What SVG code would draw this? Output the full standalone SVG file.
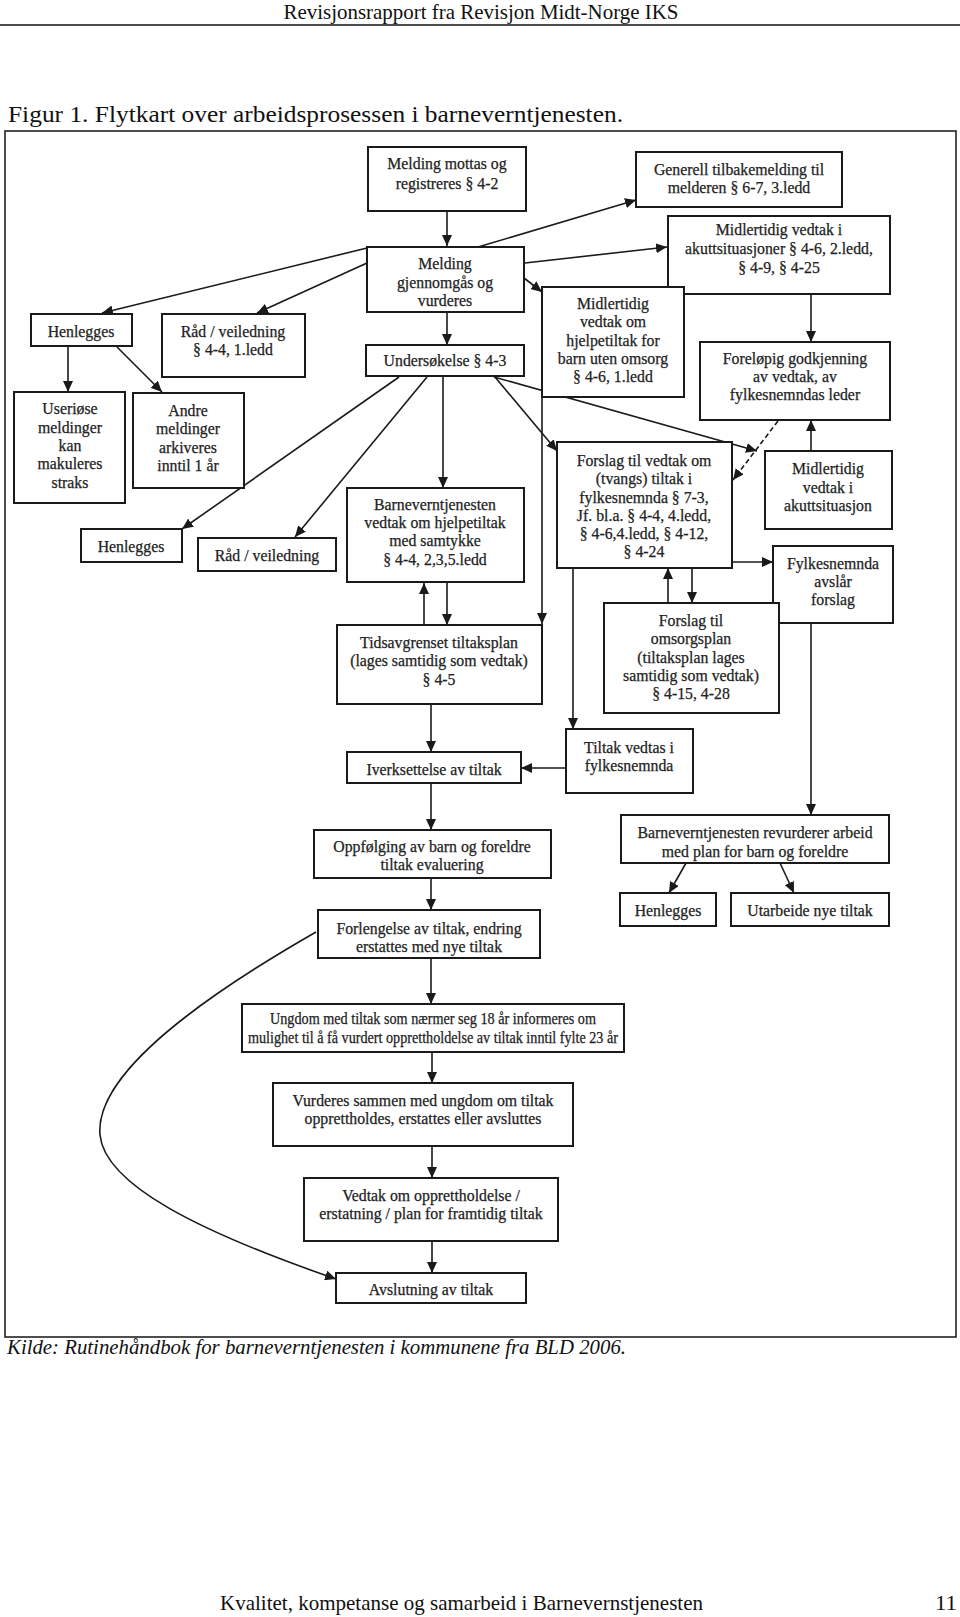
<svg xmlns="http://www.w3.org/2000/svg" width="960" height="1617" viewBox="0 0 960 1617">
<style>
.page{font-family:"Liberation Serif","Times New Roman",serif;fill:#111}
.box{fill:#fff;stroke:#1a1a1a;stroke-width:2}
.t{font-family:"Liberation Serif","Times New Roman",serif;font-size:15.8px;fill:#222;stroke:#222;stroke-width:0.25;text-anchor:middle}
.c{fill:none;stroke:#1a1a1a;stroke-width:1.6}
.a{marker-end:url(#ah)}
.d{stroke-dasharray:5,3}
</style>
<defs>
<marker id="ah" markerUnits="userSpaceOnUse" markerWidth="12" markerHeight="10" refX="11" refY="5" orient="auto">
<path d="M0,0 L11,5 L0,10 z" fill="#1a1a1a"/>
</marker>
</defs>
<rect width="960" height="1617" fill="#fff"/>
<g id="page">
<text class="page" x="481" y="19" font-size="21" text-anchor="middle" textLength="395" lengthAdjust="spacingAndGlyphs">Revisjonsrapport fra Revisjon Midt-Norge IKS</text>
<line x1="0" y1="25" x2="960" y2="25" stroke="#111" stroke-width="1.6"/>
<text class="page" x="8" y="122" font-size="23" textLength="615" lengthAdjust="spacingAndGlyphs">Figur 1. Flytkart over arbeidsprosessen i barneverntjenesten.</text>
<rect x="5" y="131" width="951" height="1206" fill="none" stroke="#222" stroke-width="1.6"/>
<text class="page" x="7" y="1354" font-size="20" font-style="italic" textLength="619" lengthAdjust="spacingAndGlyphs">Kilde: Rutinehåndbok for barneverntjenesten i kommunene fra BLD 2006.</text>
<text class="page" x="220" y="1610" font-size="21" textLength="483" lengthAdjust="spacingAndGlyphs">Kvalitet, kompetanse og samarbeid i Barnevernstjenesten</text>
<text class="page" x="935" y="1610" font-size="21" textLength="22" lengthAdjust="spacingAndGlyphs">11</text>
</g>
<g id="connectors">
<line class="c a" x1="447" y1="211" x2="447" y2="246"/>
<line class="c a" x1="447" y1="312" x2="447" y2="345"/>
<line class="c a" x1="367" y1="248" x2="102" y2="313"/>
<line class="c a" x1="367" y1="263" x2="257" y2="313"/>
<line class="c a" x1="478" y1="247" x2="636" y2="200"/>
<line class="c a" x1="525" y1="263" x2="667" y2="247"/>
<line class="c a" x1="524" y1="278" x2="542" y2="292"/>
<line class="c a" x1="811" y1="294" x2="811" y2="342"/>
<line class="c a" x1="68" y1="346" x2="68" y2="392"/>
<line class="c a" x1="117" y1="347" x2="162" y2="392"/>
<line class="c a" x1="399" y1="377" x2="182" y2="529"/>
<line class="c a" x1="427" y1="377" x2="295" y2="537"/>
<line class="c a" x1="443" y1="376" x2="443" y2="488"/>
<line class="c a" x1="495" y1="377" x2="557" y2="451"/>
<line class="c a" x1="494" y1="377" x2="757" y2="451"/>
<line class="c a" x1="542" y1="397" x2="542" y2="624"/>
<line class="c a" x1="424" y1="625" x2="424" y2="583"/>
<line class="c a" x1="447" y1="582" x2="447" y2="625"/>
<line class="c a" x1="431" y1="704" x2="431" y2="752"/>
<line class="c a" x1="566" y1="768" x2="521" y2="768"/>
<line class="c a" x1="431" y1="783" x2="431" y2="830"/>
<line class="c a" x1="431" y1="878" x2="431" y2="910"/>
<line class="c a" x1="431" y1="958" x2="431" y2="1004"/>
<line class="c a" x1="432" y1="1052" x2="432" y2="1083"/>
<line class="c a" x1="432" y1="1146" x2="432" y2="1178"/>
<line class="c a" x1="432" y1="1241" x2="432" y2="1273"/>
<path class="c a" d="M316,932 C180,1010 95,1080 100,1135 C105,1185 200,1232 336,1279"/>
<line class="c a d" x1="778" y1="421" x2="733" y2="480"/>
<line class="c a" x1="811" y1="451" x2="811" y2="420"/>
<line class="c a" x1="732" y1="562" x2="773" y2="562"/>
<line class="c a" x1="668" y1="603" x2="668" y2="568"/>
<line class="c a" x1="692" y1="568" x2="692" y2="603"/>
<line class="c a" x1="573" y1="568" x2="573" y2="729"/>
<line class="c a" x1="811" y1="623" x2="811" y2="815"/>
<line class="c a" x1="686" y1="863" x2="669" y2="893"/>
<line class="c a" x1="780" y1="863" x2="794" y2="893"/>
</g>
<g id="n-mottas"><rect class="box" x="368" y="147" width="158" height="64"/><text class="t" x="447" y="169">Melding mottas og</text><text class="t" x="447" y="189">registreres § 4-2</text></g>
<g id="n-gjennomgaas"><rect class="box" x="367" y="247" width="157" height="65"/><text class="t" x="445" y="269">Melding</text><text class="t" x="445" y="288">gjennomgås og</text><text class="t" x="445" y="306">vurderes</text></g>
<g id="n-undersokelse"><rect class="box" x="366" y="345" width="158" height="31"/><text class="t" x="445" y="366">Undersøkelse § 4-3</text></g>
<g id="n-henlegges1"><rect class="box" x="31" y="314" width="101" height="32"/><text class="t" x="81" y="337">Henlegges</text></g>
<g id="n-raad1"><rect class="box" x="162" y="314" width="143" height="63"/><text class="t" x="233" y="337">Råd / veiledning</text><text class="t" x="233" y="355">§ 4-4, 1.ledd</text></g>
<g id="n-useriose"><rect class="box" x="14" y="392" width="111" height="111"/><text class="t" x="70" y="414">Useriøse</text><text class="t" x="70" y="433">meldinger</text><text class="t" x="70" y="451">kan</text><text class="t" x="70" y="469">makuleres</text><text class="t" x="70" y="488">straks</text></g>
<g id="n-andre"><rect class="box" x="133" y="393" width="111" height="95"/><text class="t" x="188" y="416">Andre</text><text class="t" x="188" y="434">meldinger</text><text class="t" x="188" y="453">arkiveres</text><text class="t" x="188" y="471">inntil 1 år</text></g>
<g id="n-generell"><rect class="box" x="636" y="152" width="206" height="55"/><text class="t" x="739" y="175">Generell tilbakemelding til</text><text class="t" x="739" y="193">melderen § 6-7, 3.ledd</text></g>
<g id="n-akutt"><rect class="box" x="668" y="216" width="222" height="78"/><text class="t" x="779" y="235">Midlertidig vedtak i</text><text class="t" x="779" y="254">akuttsituasjoner § 4-6, 2.ledd,</text><text class="t" x="779" y="273">§ 4-9, § 4-25</text></g>
<g id="n-midl-om"><rect class="box" x="542" y="287" width="142" height="110"/><text class="t" x="613" y="309">Midlertidig</text><text class="t" x="613" y="327">vedtak om</text><text class="t" x="613" y="346">hjelpetiltak for</text><text class="t" x="613" y="364">barn uten omsorg</text><text class="t" x="613" y="382">§ 4-6, 1.ledd</text></g>
<g id="n-forelopig"><rect class="box" x="700" y="342" width="190" height="78"/><text class="t" x="795" y="364">Foreløpig godkjenning</text><text class="t" x="795" y="382">av vedtak, av</text><text class="t" x="795" y="400">fylkesnemndas leder</text></g>
<g id="n-forslag"><rect class="box" x="557" y="442" width="175" height="126"/><text class="t" x="644" y="466">Forslag til vedtak om</text><text class="t" x="644" y="484">(tvangs) tiltak i</text><text class="t" x="644" y="503">fylkesnemnda § 7-3,</text><text class="t" x="644" y="521">Jf. bl.a. § 4-4, 4.ledd,</text><text class="t" x="644" y="539">§ 4-6,4.ledd, § 4-12,</text><text class="t" x="644" y="557">§ 4-24</text></g>
<g id="n-midl-akuttsituasjon"><rect class="box" x="765" y="451" width="127" height="78"/><text class="t" x="828" y="474">Midlertidig</text><text class="t" x="828" y="493">vedtak i</text><text class="t" x="828" y="511">akuttsituasjon</text></g>
<g id="n-fylkesnemnda"><rect class="box" x="773" y="546" width="120" height="77"/><text class="t" x="833" y="569">Fylkesnemnda</text><text class="t" x="833" y="587">avslår</text><text class="t" x="833" y="605">forslag</text></g>
<g id="n-omsorgsplan"><rect class="box" x="604" y="603" width="175" height="110"/><text class="t" x="691" y="626">Forslag til</text><text class="t" x="691" y="644">omsorgsplan</text><text class="t" x="691" y="663">(tiltaksplan lages</text><text class="t" x="691" y="681">samtidig som vedtak)</text><text class="t" x="691" y="699">§ 4-15, 4-28</text></g>
<g id="n-henlegges2"><rect class="box" x="81" y="529" width="101" height="33"/><text class="t" x="131" y="552">Henlegges</text></g>
<g id="n-raad2"><rect class="box" x="198" y="538" width="138" height="33"/><text class="t" x="267" y="561">Råd / veiledning</text></g>
<g id="n-bv-vedtak"><rect class="box" x="347" y="488" width="177" height="94"/><text class="t" x="435" y="510">Barneverntjenesten</text><text class="t" x="435" y="528">vedtak om hjelpetiltak</text><text class="t" x="435" y="546">med samtykke</text><text class="t" x="435" y="565">§ 4-4, 2,3,5.ledd</text></g>
<g id="n-tidsavgrenset"><rect class="box" x="337" y="625" width="205" height="79"/><text class="t" x="439" y="648">Tidsavgrenset tiltaksplan</text><text class="t" x="439" y="666">(lages samtidig som vedtak)</text><text class="t" x="439" y="685">§ 4-5</text></g>
<g id="n-iverksettelse"><rect class="box" x="347" y="752" width="174" height="31"/><text class="t" x="434" y="775">Iverksettelse av tiltak</text></g>
<g id="n-tiltak-vedtas"><rect class="box" x="566" y="729" width="127" height="64"/><text class="t" x="629" y="753">Tiltak vedtas i</text><text class="t" x="629" y="771">fylkesnemnda</text></g>
<g id="n-oppfolging"><rect class="box" x="314" y="830" width="237" height="48"/><text class="t" x="432" y="852">Oppfølging av barn og foreldre</text><text class="t" x="432" y="870">tiltak evaluering</text></g>
<g id="n-forlengelse"><rect class="box" x="318" y="910" width="222" height="48"/><text class="t" x="429" y="934">Forlengelse av tiltak, endring</text><text class="t" x="429" y="952">erstattes med nye tiltak</text></g>
<g id="n-revurderer"><rect class="box" x="621" y="815" width="268" height="48"/><text class="t" x="755" y="838">Barneverntjenesten revurderer arbeid</text><text class="t" x="755" y="857">med plan for barn og foreldre</text></g>
<g id="n-henlegges3"><rect class="box" x="620" y="893" width="96" height="33"/><text class="t" x="668" y="916">Henlegges</text></g>
<g id="n-utarbeide"><rect class="box" x="731" y="893" width="158" height="33"/><text class="t" x="810" y="916">Utarbeide nye tiltak</text></g>
<g id="n-ungdom"><rect class="box" x="242" y="1004" width="382" height="48"/><text class="t" x="433" y="1024" textLength="326" lengthAdjust="spacingAndGlyphs">Ungdom med tiltak som nærmer seg 18 år informeres om</text><text class="t" x="433" y="1043" textLength="370" lengthAdjust="spacingAndGlyphs">mulighet til å få vurdert opprettholdelse av tiltak inntil fylte 23 år</text></g>
<g id="n-vurderes"><rect class="box" x="273" y="1083" width="300" height="63"/><text class="t" x="423" y="1106">Vurderes sammen med ungdom om tiltak</text><text class="t" x="423" y="1124">opprettholdes, erstattes eller avsluttes</text></g>
<g id="n-vedtak"><rect class="box" x="304" y="1178" width="254" height="63"/><text class="t" x="431" y="1201">Vedtak om opprettholdelse /</text><text class="t" x="431" y="1219">erstatning / plan for framtidig tiltak</text></g>
<g id="n-avslutning"><rect class="box" x="336" y="1273" width="190" height="30"/><text class="t" x="431" y="1295">Avslutning av tiltak</text></g>
</svg>
